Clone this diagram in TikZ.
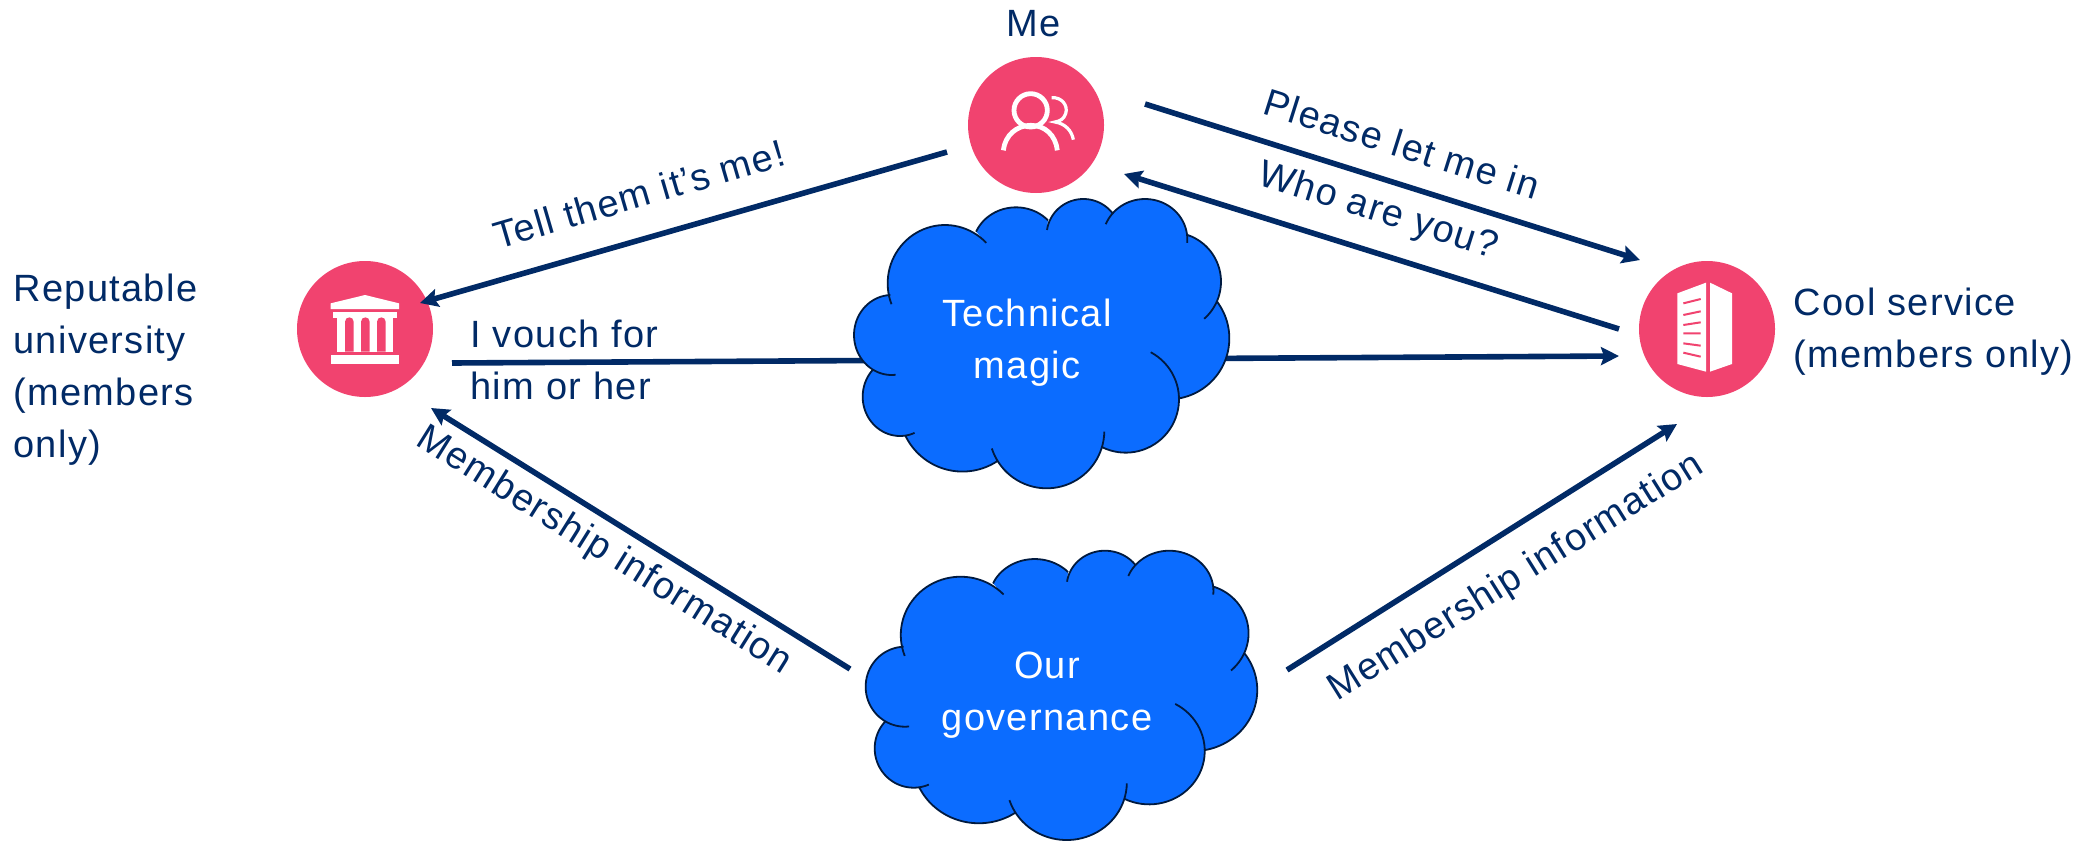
\documentclass[tikz,border=0pt]{standalone}
\usepackage{fontspec}
\setmainfont[LetterSpace=3.5]{Liberation Sans}
\usetikzlibrary{arrows.meta}
\definecolor{navy}{HTML}{012A66}
\definecolor{pinkc}{HTML}{F1436F}
\definecolor{cloudblue}{HTML}{0B6CFF}
\definecolor{cloudline}{HTML}{001A40}
% one lobe of a cloud: prefix, centre x, centre y, x radius, y radius, start angle, end angle
\newcommand\bump[7]{#1 plot[domain=#6:#7,samples=40] ({#2+#4*cos(\x)},{#3+#5*sin(\x)})}
\newcommand\cloudshape[1]{
 \bump{#1}{345}{310}{172}{175}{159}{316}
 \bump{#1}{558}{202}{130}{120}{203}{317.5}
 \bump{#1}{760}{165}{110}{108}{188}{323}
 \bump{#1}{945}{178}{127}{121}{202}{365}
 \bump{#1}{1025}{305}{148}{148}{288}{408.8}
 \bump{#1}{1015}{475}{183}{183}{323}{440.8}
 \bump{#1}{887}{658}{160}{160}{298}{476.7}
 \bump{#1}{650}{752}{173}{173}{1}{162}
 \bump{#1}{397.4}{684.7}{190}{190}{57}{155}
 \bump{#1}{210}{650}{112}{118}{67}{223.6}
 \bump{#1}{185}{465}{113}{120}{84}{268}
}
\newcommand\cloudfig{
 \fill[cloudblue] (183,372) \cloudshape{--} -- cycle;
 \draw[cloudline,line width=0.9pt] \cloudshape{};
}
\tikzset{
 x=0.5pt,y=-0.5pt,
 txt/.style={font=\fontsize{19}{26}\selectfont,text=navy,inner sep=0pt,align=left},
 lbl/.style={txt,align=center},
 cloudtxt/.style={txt,text=white,align=center},
 badge/.style={circle,fill=pinkc,minimum size=68pt,inner sep=0pt,draw=none},
 flow/.style={draw=navy,line width=2.8pt,-{Stealth[length=9pt,width=9pt,inset=1.5pt]}},
 ic/.style={draw=white,line width=2.4pt},
}
\begin{document}
\begin{tikzpicture}
\useasboundingbox (0,0) rectangle (2098,841);
% badges
\node[badge] (me) at (1036,125) {};
\node[badge] (uni) at (365,329) {};
\node[badge] (service) at (1707,329) {};
% cloud anchors
\coordinate (magicC) at (1027,343);
\coordinate (govC) at (1047,695);
% connector behind the cloud
\draw[flow] ([shift={(87,34)}]uni.center) -- ([shift={(-88,27)}]service.center);
% clouds
\begin{scope}[shift={(830,180)},scale=0.33333]\cloudfig\end{scope}
\begin{scope}[shift={(840.6,531.7)},xscale=0.3478,yscale=0.33333]\cloudfig\end{scope}
\node[cloudtxt] (magic) at (magicC) {Technical\\magic};
\node[cloudtxt] (governance) at (govC) {Our\\governance};
% connectors
\draw[flow] ([shift={(-89,27)}]me.center) -- ([shift={(55,-26)}]uni.center);
\draw[flow] ([shift={(109,-21)}]me.center) -- ([shift={(-67,-69)}]service.center);
\draw[flow] ([shift={(-88,0)}]service.center) -- ([shift={(88,49)}]me.center);
\draw[flow] ([shift={(-197,-26)}]governance.center) -- ([shift={(66,79)}]uni.center);
\draw[flow] ([shift={(240,-25)}]governance.center) -- ([shift={(-30,95)}]service.center);
% icons: people
\begin{scope}[shift={(940,42)},scale=0.33333]
 \draw[ic] (272,205) circle[radius=50];
 \draw[ic] (190,325) .. controls (195,280) and (230,250) .. (272,250) .. controls (315,250) and (347,280) .. (352,325);
 \draw[draw=white,line width=1.6pt] (335,167) .. controls (365,165) and (385,190) .. (377,215) .. controls (372,230) and (360,238) .. (345,240) .. controls (375,245) and (395,265) .. (400,293);
\end{scope}
% icons: university
\begin{scope}[shift={(280,250)},scale=0.33333]
 \fill[white] (152,160) -- (255,135) -- (357,160) -- (357,177) -- (152,177) -- cycle;
 \fill[white] (160,187) rectangle (350,205);
 \fill[white] (172,187) rectangle (339,305);
 \fill[pinkc] (195,305) -- (195,215) .. controls (195,198) and (221,198) .. (221,215) -- (221,305) -- cycle;
 \fill[pinkc] (243,305) -- (243,215) .. controls (243,198) and (269,198) .. (269,215) -- (269,305) -- cycle;
 \fill[pinkc] (291,305) -- (291,215) .. controls (291,198) and (317,198) .. (317,215) -- (317,305) -- cycle;
 \fill[white] (152,315) rectangle (357,342);
\end{scope}
% icons: building
\begin{scope}[shift={(1620,250)},scale=0.33333]
 \fill[white] (172,130) -- (258,98) -- (258,365) -- (172,342) -- cycle;
 \fill[white] (270,98) -- (336,130) -- (336,342) -- (270,365) -- cycle;
 \draw[pinkc,line width=1pt] (190,160) -- (242,147) (190,195) -- (242,184) (190,225) -- (242,217) (190,250) -- (242,250) (190,280) -- (242,287) (190,308) -- (242,320);
\end{scope}
% labels
\node[lbl] (lme) at (1034,24) {Me};
\node[txt,anchor=west] (luni) at (13,370) {Reputable\\university\\(members\\only)};
\node[txt,anchor=west] (lsvc) at (1793,332) {Cool service\\(members only)};
\node[txt,anchor=west] (lvouch) at (470,360) {I vouch for\\him or her};
\node[lbl,rotate=16.3] (ltell) at (639,194) {Tell them it’s me!};
\node[lbl,rotate=-17.5] (lplease) at (1402,144) {Please let me in};
\node[lbl,rotate=-17.5] (lwho) at (1378,212) {Who are you?};
\node[lbl,rotate=-32] (lm1) at (604,551) {Membership information};
\node[lbl,rotate=32] (lm2) at (1516,578) {Membership information};
\end{tikzpicture}
\end{document}
